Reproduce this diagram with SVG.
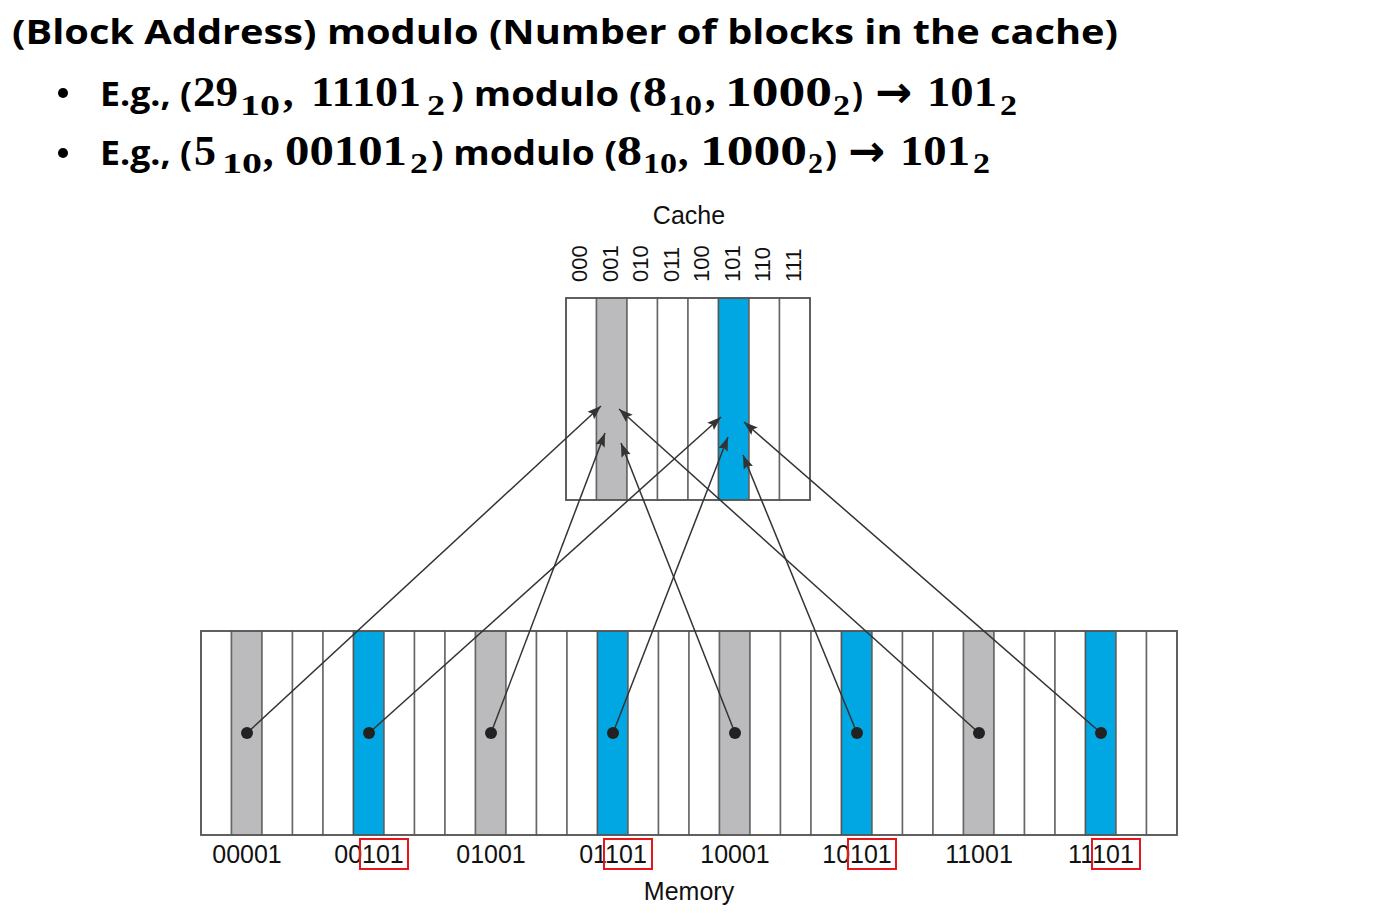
<svg xmlns="http://www.w3.org/2000/svg" width="1384" height="913" viewBox="0 0 1384 913">
<style>
.hs{font-family:"Open Sans","Liberation Sans",sans-serif;font-weight:700;font-size:34px;fill:#000}
.hn{font-family:"Liberation Serif",serif;font-weight:700;font-size:42px;fill:#000}
.hb{font-family:"Liberation Serif",serif;font-weight:700;font-size:30px;fill:#000}
.ar{font-family:"DejaVu Sans",sans-serif;font-weight:700;font-size:44px;fill:#000}
.lbl{font-family:"Liberation Sans",Arial,sans-serif;font-size:25px;fill:#111}
.clbl{font-family:"Liberation Sans",Arial,sans-serif;font-size:22px;fill:#111}
.col{fill:#fff;stroke:#666;stroke-width:1.5}
.gray{fill:#bbbbbd;stroke:#666;stroke-width:1.5}
.blue{fill:#00a7e2;stroke:#555;stroke-width:1.5}
.outer{fill:none;stroke:#555;stroke-width:1.6}
.conn{stroke:#333;stroke-width:1.5;fill:none;marker-end:url(#ah)}
.dot{fill:#222}
.red{fill:none;stroke:#e8161b;stroke-width:2}
</style>
<defs>
<marker id="ah" markerUnits="userSpaceOnUse" markerWidth="15" markerHeight="11" refX="14" refY="5" orient="auto">
<path d="M0,0 L14,5 L0,10 L2.5,5 Z" fill="#333"/>
</marker>
</defs>
<rect width="1384" height="913" fill="#fff"/>

<g id="header">
<text class="hs" x="12" y="44" font-size="35" textLength="1106" lengthAdjust="spacingAndGlyphs">(Block Address) modulo (Number of blocks in the cache)</text>
<circle cx="63" cy="93" r="5" fill="#000"/>
<circle cx="63" cy="153" r="5" fill="#000"/>
<!-- line 1 -->
<text class="hs" x="100" y="106" textLength="92" lengthAdjust="spacingAndGlyphs">E.g., (</text>
<text class="hn" x="193" y="106" textLength="45" lengthAdjust="spacingAndGlyphs">29</text>
<text class="hb" x="240" y="115" textLength="40" lengthAdjust="spacingAndGlyphs">10</text>
<text class="hn" x="283" y="106">,</text>
<text class="hn" x="311" y="106" textLength="110" lengthAdjust="spacingAndGlyphs">11101</text>
<text class="hb" x="427" y="115" textLength="18" lengthAdjust="spacingAndGlyphs">2</text>
<text class="hs" x="451" y="106" textLength="191" lengthAdjust="spacingAndGlyphs">) modulo (</text>
<text class="hn" x="643" y="106" textLength="24" lengthAdjust="spacingAndGlyphs">8</text>
<text class="hb" x="668" y="115" textLength="34" lengthAdjust="spacingAndGlyphs">10</text>
<text class="hn" x="705" y="106">,</text>
<text class="hn" x="725" y="106" textLength="107" lengthAdjust="spacingAndGlyphs">1000</text>
<text class="hb" x="833" y="115" textLength="17" lengthAdjust="spacingAndGlyphs">2</text>
<text class="hs" x="852" y="106" textLength="11" lengthAdjust="spacingAndGlyphs">)</text>
<text class="ar" x="875" y="107" textLength="37" lengthAdjust="spacingAndGlyphs">→</text>
<text class="hn" x="927" y="106" textLength="70" lengthAdjust="spacingAndGlyphs">101</text>
<text class="hb" x="1000" y="115" textLength="17" lengthAdjust="spacingAndGlyphs">2</text>
<!-- line 2 -->
<text class="hs" x="100" y="165" textLength="92" lengthAdjust="spacingAndGlyphs">E.g., (</text>
<text class="hn" x="194" y="165" textLength="22" lengthAdjust="spacingAndGlyphs">5</text>
<text class="hb" x="222" y="173" textLength="40" lengthAdjust="spacingAndGlyphs">10</text>
<text class="hn" x="263" y="165">,</text>
<text class="hn" x="285" y="165" textLength="122" lengthAdjust="spacingAndGlyphs">00101</text>
<text class="hb" x="410" y="173" textLength="18" lengthAdjust="spacingAndGlyphs">2</text>
<text class="hs" x="431" y="165" textLength="186" lengthAdjust="spacingAndGlyphs">) modulo (</text>
<text class="hn" x="617" y="165" textLength="25" lengthAdjust="spacingAndGlyphs">8</text>
<text class="hb" x="643" y="173" textLength="34" lengthAdjust="spacingAndGlyphs">10</text>
<text class="hn" x="678" y="165">,</text>
<text class="hn" x="700" y="165" textLength="107" lengthAdjust="spacingAndGlyphs">1000</text>
<text class="hb" x="808" y="173" textLength="15" lengthAdjust="spacingAndGlyphs">2</text>
<text class="hs" x="825" y="165" textLength="12" lengthAdjust="spacingAndGlyphs">)</text>
<text class="ar" x="848" y="166" textLength="37" lengthAdjust="spacingAndGlyphs">→</text>
<text class="hn" x="900" y="165" textLength="70" lengthAdjust="spacingAndGlyphs">101</text>
<text class="hb" x="973" y="173" textLength="17" lengthAdjust="spacingAndGlyphs">2</text>
</g>

<g id="cache">
<text class="lbl" x="689" y="224" text-anchor="middle">Cache</text>
<rect class="col" x="566" y="298" width="30.5" height="202"/>
<rect class="gray" x="596.5" y="298" width="30.5" height="202"/>
<rect class="col" x="627" y="298" width="30.5" height="202"/>
<rect class="col" x="657.5" y="298" width="30.5" height="202"/>
<rect class="col" x="688" y="298" width="30.5" height="202"/>
<rect class="blue" x="718.5" y="298" width="30.5" height="202"/>
<rect class="col" x="749" y="298" width="30.5" height="202"/>
<rect class="col" x="779.5" y="298" width="30.5" height="202"/>
<rect class="outer" x="566" y="298" width="244" height="202"/>
<text class="clbl" transform="translate(587.25,282) rotate(-90)">000</text>
<text class="clbl" transform="translate(617.75,282) rotate(-90)">001</text>
<text class="clbl" transform="translate(648.25,282) rotate(-90)">010</text>
<text class="clbl" transform="translate(678.75,282) rotate(-90)">011</text>
<text class="clbl" transform="translate(709.25,282) rotate(-90)">100</text>
<text class="clbl" transform="translate(739.75,282) rotate(-90)">101</text>
<text class="clbl" transform="translate(770.25,282) rotate(-90)">110</text>
<text class="clbl" transform="translate(800.75,282) rotate(-90)">111</text>
</g>

<g id="memory">
<rect class="col" x="201" y="631" width="30.5" height="204"/>
<rect class="gray" x="231.5" y="631" width="30.5" height="204"/>
<rect class="col" x="262" y="631" width="30.5" height="204"/>
<rect class="col" x="292.5" y="631" width="30.5" height="204"/>
<rect class="col" x="323" y="631" width="30.5" height="204"/>
<rect class="blue" x="353.5" y="631" width="30.5" height="204"/>
<rect class="col" x="384" y="631" width="30.5" height="204"/>
<rect class="col" x="414.5" y="631" width="30.5" height="204"/>
<rect class="col" x="445" y="631" width="30.5" height="204"/>
<rect class="gray" x="475.5" y="631" width="30.5" height="204"/>
<rect class="col" x="506" y="631" width="30.5" height="204"/>
<rect class="col" x="536.5" y="631" width="30.5" height="204"/>
<rect class="col" x="567" y="631" width="30.5" height="204"/>
<rect class="blue" x="597.5" y="631" width="30.5" height="204"/>
<rect class="col" x="628" y="631" width="30.5" height="204"/>
<rect class="col" x="658.5" y="631" width="30.5" height="204"/>
<rect class="col" x="689" y="631" width="30.5" height="204"/>
<rect class="gray" x="719.5" y="631" width="30.5" height="204"/>
<rect class="col" x="750" y="631" width="30.5" height="204"/>
<rect class="col" x="780.5" y="631" width="30.5" height="204"/>
<rect class="col" x="811" y="631" width="30.5" height="204"/>
<rect class="blue" x="841.5" y="631" width="30.5" height="204"/>
<rect class="col" x="872" y="631" width="30.5" height="204"/>
<rect class="col" x="902.5" y="631" width="30.5" height="204"/>
<rect class="col" x="933" y="631" width="30.5" height="204"/>
<rect class="gray" x="963.5" y="631" width="30.5" height="204"/>
<rect class="col" x="994" y="631" width="30.5" height="204"/>
<rect class="col" x="1024.5" y="631" width="30.5" height="204"/>
<rect class="col" x="1055" y="631" width="30.5" height="204"/>
<rect class="blue" x="1085.5" y="631" width="30.5" height="204"/>
<rect class="col" x="1116" y="631" width="30.5" height="204"/>
<rect class="col" x="1146.5" y="631" width="30.5" height="204"/>
<rect class="outer" x="201" y="631" width="976" height="204"/>
<text class="lbl" x="247" y="863" text-anchor="middle">00001</text>
<text class="lbl" x="369" y="863" text-anchor="middle">00101</text>
<text class="lbl" x="491" y="863" text-anchor="middle">01001</text>
<text class="lbl" x="613" y="863" text-anchor="middle">01101</text>
<text class="lbl" x="735" y="863" text-anchor="middle">10001</text>
<text class="lbl" x="857" y="863" text-anchor="middle">10101</text>
<text class="lbl" x="979" y="863" text-anchor="middle">11001</text>
<text class="lbl" x="1101" y="863" text-anchor="middle">11101</text>
<rect class="red" x="360" y="839" width="48" height="30"/>
<rect class="red" x="604" y="839" width="48" height="30"/>
<rect class="red" x="848" y="839" width="48" height="30"/>
<rect class="red" x="1092" y="839" width="48" height="30"/>
<text class="lbl" x="689" y="900" text-anchor="middle">Memory</text>
</g>

<g id="connectors">
<line class="conn" x1="247" y1="733" x2="601" y2="406"/>
<line class="conn" x1="369" y1="733" x2="721" y2="417"/>
<line class="conn" x1="491" y1="733" x2="605" y2="433"/>
<line class="conn" x1="613" y1="733" x2="728" y2="437"/>
<line class="conn" x1="735" y1="733" x2="621" y2="443"/>
<line class="conn" x1="857" y1="733" x2="743" y2="455"/>
<line class="conn" x1="979" y1="733" x2="619" y2="409"/>
<line class="conn" x1="1101" y1="733" x2="744" y2="422"/>
<circle class="dot" cx="247" cy="733" r="6"/>
<circle class="dot" cx="369" cy="733" r="6"/>
<circle class="dot" cx="491" cy="733" r="6"/>
<circle class="dot" cx="613" cy="733" r="6"/>
<circle class="dot" cx="735" cy="733" r="6"/>
<circle class="dot" cx="857" cy="733" r="6"/>
<circle class="dot" cx="979" cy="733" r="6"/>
<circle class="dot" cx="1101" cy="733" r="6"/>
</g>
</svg>
